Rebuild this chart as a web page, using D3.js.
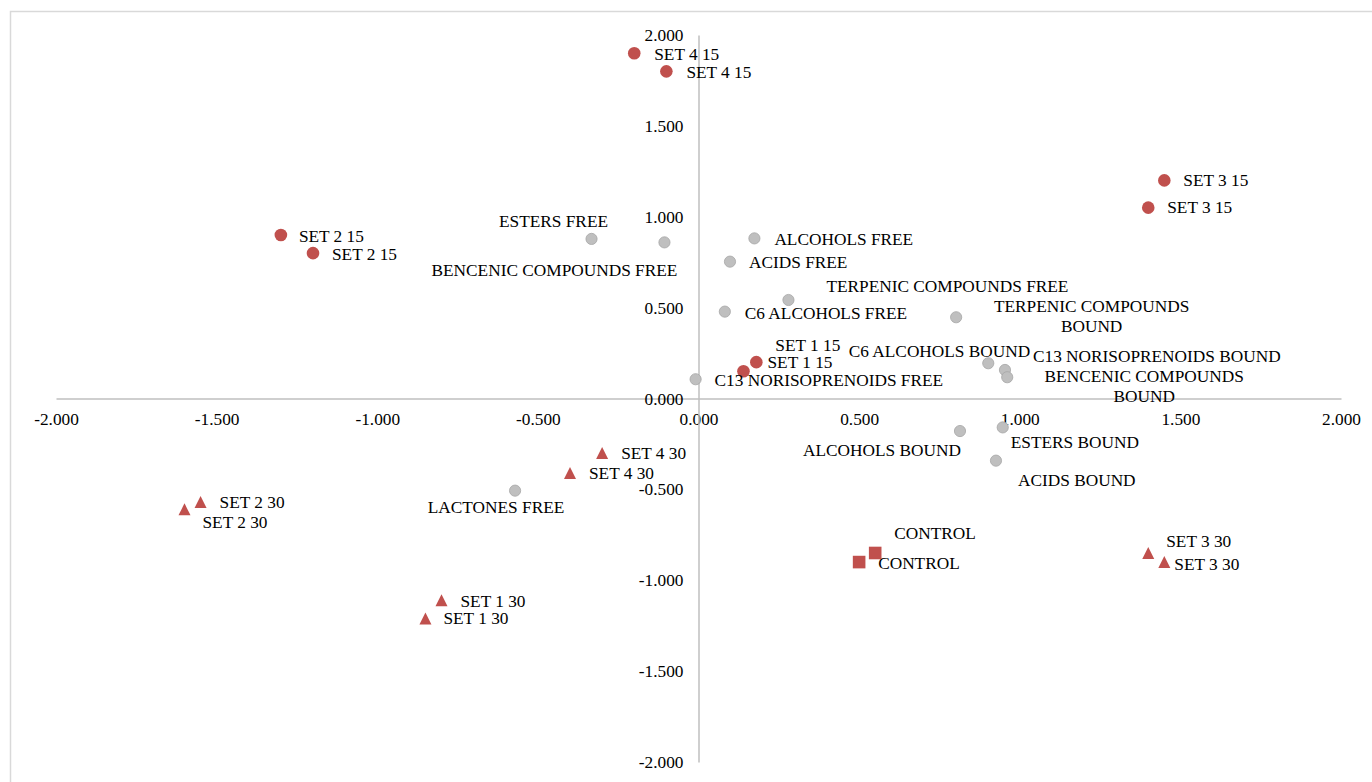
<!DOCTYPE html>
<html>
<head>
<meta charset="utf-8">
<style>
body { margin: 0; background: #fff; }
text { font-family: "Liberation Serif", "Times New Roman", serif; fill: #000; }
</style>
</head>
<body>
<svg id="chart" width="1372" height="782"></svg>
<script src="https://d3js.org/d3.v7.min.js"></script>
<script>
// axis ticks
const tickValues = [-2, -1.5, -1, -0.5, 0, 0.5, 1, 1.5, 2];

// samples at 15 days (red circles)
const days15Labels = ["SET 4 15", "SET 4 15", "SET 3 15", "SET 3 15", "SET 2 15", "SET 2 15", "SET 1 15", "SET 1 15"];
const days15X = [-0.20, -0.10, 1.45, 1.40, -1.30, -1.20, 0.18, 0.14];
const days15Y = [1.90, 1.80, 1.20, 1.05, 0.90, 0.80, 0.20, 0.15];

// samples at 30 days (red triangles)
const days30Labels = ["SET 4 30", "SET 4 30", "SET 2 30", "SET 2 30", "SET 1 30", "SET 1 30", "SET 3 30", "SET 3 30"];
const days30X = [-0.30, -0.40, -1.55, -1.60, -0.80, -0.85, 1.40, 1.45];
const days30Y = [-0.30, -0.41, -0.57, -0.61, -1.11, -1.21, -0.85, -0.90];

// control (red squares)
const controlLabels = ["CONTROL", "CONTROL"];
const controlX = [0.55, 0.50];
const controlY = [-0.85, -0.90];

// compound families (grey circles)
const compoundLabels = ["ESTERS FREE", "BENCENIC COMPOUNDS FREE", "ALCOHOLS FREE", "ACIDS FREE",
    "TERPENIC COMPOUNDS FREE", "C6 ALCOHOLS FREE", "TERPENIC COMPOUNDS BOUND", "C6 ALCOHOLS BOUND",
    "C13 NORISOPRENOIDS BOUND", "BENCENIC COMPOUNDS BOUND", "C13 NORISOPRENOIDS FREE", "ALCOHOLS BOUND",
    "ESTERS BOUND", "ACIDS BOUND", "LACTONES FREE"];
const compoundX = [-0.333, -0.106, 0.174, 0.098, 0.280, 0.082, 0.802, 0.902, 0.954, 0.961, -0.009, 0.814, 0.947, 0.926, -0.571];
const compoundY = [0.878, 0.859, 0.881, 0.753, 0.542, 0.478, 0.447, 0.194, 0.157, 0.117, 0.106, -0.179, -0.159, -0.342, -0.507];

// label placement (offset from the marker, like hand-moved data labels)
const days15Place = [[20, 1], [20, 1], [19, 0], [19, 0], [18, 1], [19, 1], [19, -17], [24, -9]];
const days30Place = [[19, 0], [19, 0], [19, 0], [18, 13], [19, 1], [18, 0], [18, -12], [10, 2]];
const controlPlace = [[19, -20], [19, 1]];
const compoundPlace = [
    [-38, -18, "middle"], [-110, 28, "middle"], [20, 1], [19, 1],
    [38, -14], [20, 2], [135.5, -10.6, "middle", true], [42, -12, "end"],
    [28, -14], [137, -0.6, "middle", true], [19, 1], [-78, 19, "middle"],
    [8, 15], [22, 20], [-19, 17, "middle"]
];

const svg = d3.select("#chart");
const red = "#c0504d";
const grey = "#bfbfbf";

// outer chart border
svg.append("rect")
    .attr("x", 10.5).attr("y", 11.5)
    .attr("width", 1400).attr("height", 800)
    .style("fill", "none")
    .style("stroke", "#d9d9d9")
    .style("stroke-width", 1.5);

const x = d3.scaleLinear().domain([-2, 2]).range([56, 1341]);
const y = d3.scaleLinear().domain([-2, 2]).range([762, 35]);
const fmt = v => (Math.abs(v) < 1e-9 ? 0 : v).toFixed(3);

const xAxis = svg.append("g")
    .attr("transform", "translate(0," + y(0) + ")")
    .call(d3.axisBottom(x).tickValues(tickValues).tickSize(0).tickPadding(14.5).tickFormat(fmt));
const yAxis = svg.append("g")
    .attr("transform", "translate(" + x(0) + ",0)")
    .call(d3.axisLeft(y).tickValues(tickValues).tickSize(0).tickPadding(15).tickFormat(fmt));

[xAxis, yAxis].forEach(g => {
    g.select(".domain").style("stroke", grey).style("stroke-width", 1.5);
    g.selectAll("text")
        .style("font-family", "'Liberation Serif', 'Times New Roman', serif")
        .style("font-size", "17.3px")
        .style("fill", "#000");
});

function pack(labels, xs, ys, place) {
    return labels.map((l, i) => ({ label: l, x: xs[i], y: ys[i], place: place[i] }));
}
const compounds = pack(compoundLabels, compoundX, compoundY, compoundPlace);
const days15 = pack(days15Labels, days15X, days15Y, days15Place);
const days30 = pack(days30Labels, days30X, days30Y, days30Place);
const control = pack(controlLabels, controlX, controlY, controlPlace);

const triangle = {
    draw(ctx, size) {
        const r = Math.sqrt(size) / 2;
        ctx.moveTo(0, -r);
        ctx.lineTo(r, r);
        ctx.lineTo(-r, r);
        ctx.closePath();
    }
};

svg.append("g").selectAll("circle")
    .data(compounds)
    .enter()
    .append("circle")
    .attr("cx", d => x(d.x))
    .attr("cy", d => y(d.y))
    .attr("r", 5.6)
    .style("fill", grey)
    .style("stroke", "#a6a6a6")
    .style("stroke-width", 0.8);

svg.append("g").selectAll("circle")
    .data(days15)
    .enter()
    .append("circle")
    .attr("cx", d => x(d.x))
    .attr("cy", d => y(d.y))
    .attr("r", 6.3)
    .style("fill", red);

svg.append("g").selectAll("path")
    .data(days30)
    .enter()
    .append("path")
    .attr("transform", d => "translate(" + x(d.x) + "," + y(d.y) + ")")
    .attr("d", d3.symbol().type(triangle).size(144))
    .style("fill", red);

svg.append("g").selectAll("rect")
    .data(control)
    .enter()
    .append("rect")
    .attr("x", d => x(d.x) - 6.3)
    .attr("y", d => y(d.y) - 6.3)
    .attr("width", 12.6)
    .attr("height", 12.6)
    .style("fill", red);

// data labels
const allLabels = compounds.concat(days15, days30, control);
const labels = svg.append("g").selectAll("text")
    .data(allLabels)
    .enter()
    .append("text")
    .attr("x", d => x(d.x) + d.place[0])
    .attr("y", d => y(d.y) + d.place[1])
    .attr("text-anchor", d => d.place[2] || "start")
    .style("font-size", "17.3px");

labels.each(function(d) {
    const t = d3.select(this);
    if (d.place[3]) {
        const words = d.label.split(" ");
        const last = words.pop();
        t.append("tspan").attr("x", x(d.x) + d.place[0]).attr("dy", "0.33em").text(words.join(" "));
        t.append("tspan").attr("x", x(d.x) + d.place[0]).attr("dy", "1.12em").text(last);
    } else {
        t.attr("dy", "0.33em").text(d.label);
    }
});
</script>
</body>
</html>
